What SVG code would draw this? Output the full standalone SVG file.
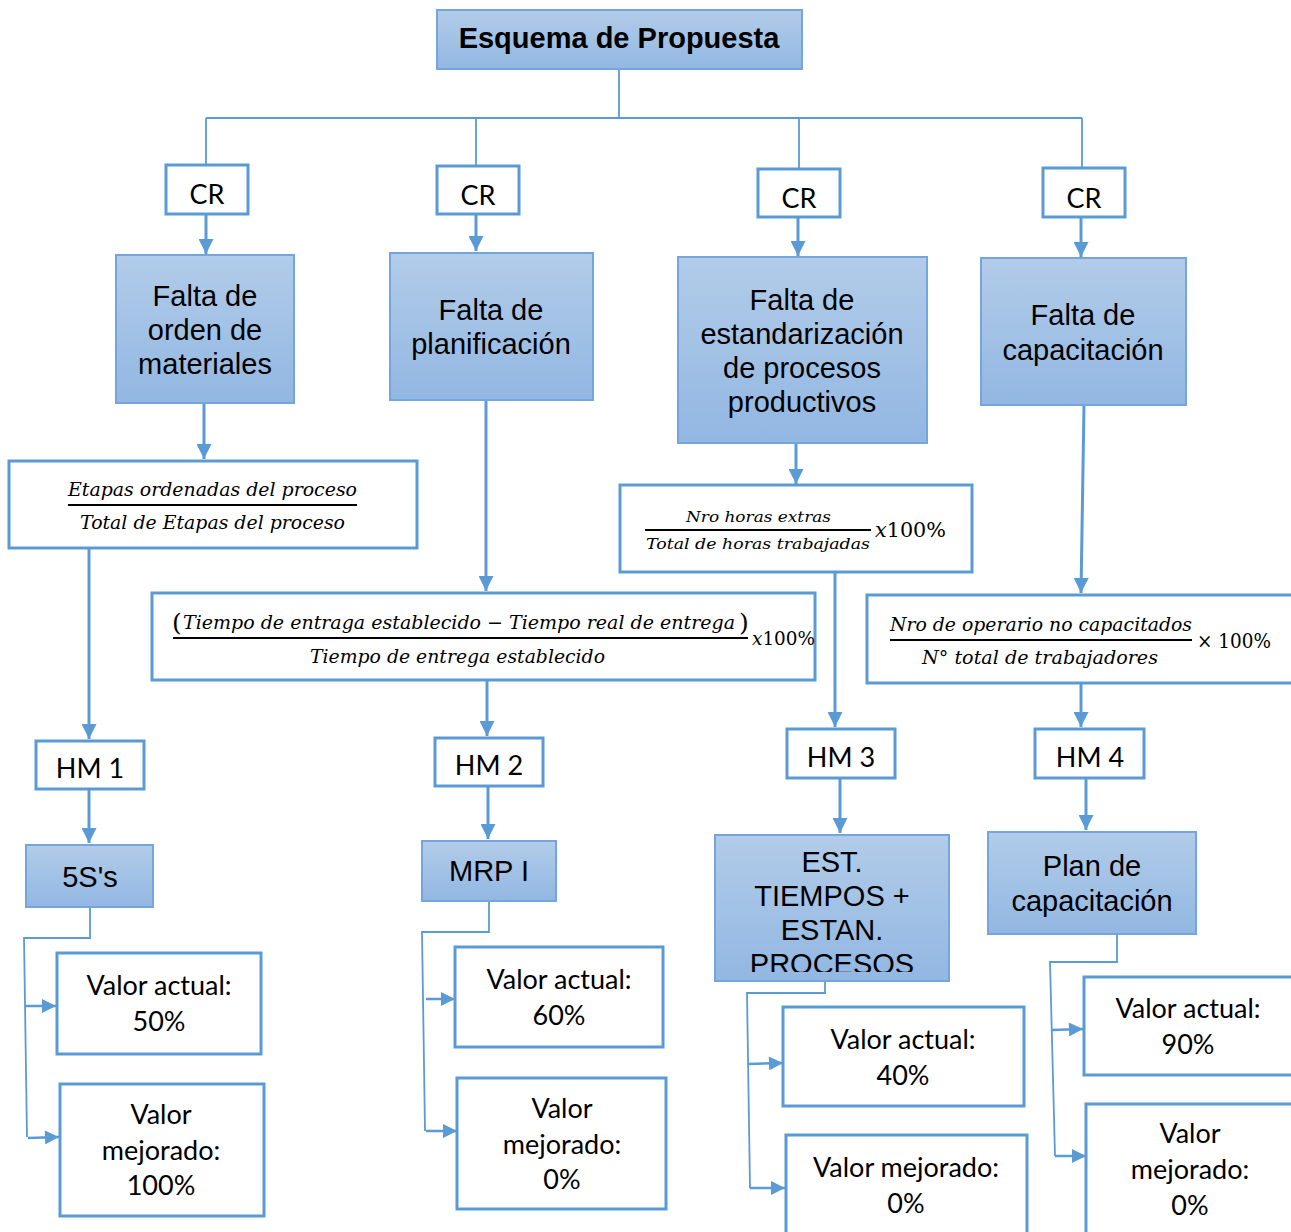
<svg xmlns="http://www.w3.org/2000/svg" width="1291" height="1232" viewBox="0 0 1291 1232">
<style>
.bx{fill:url(#g);stroke:#74a5dc;stroke-width:2}
.wb{fill:#fff;stroke:#5b9bd5;stroke-width:3}
.ar{fill:none;stroke:#5b9bd5;stroke-width:3;marker-end:url(#ah)}
.ln{fill:none;stroke:#5b9bd5;stroke-width:1.8}
.sa{fill:none;stroke:#5b9bd5;stroke-width:2.5;marker-end:url(#ah2)}
.t{font-family:"Liberation Sans",Arial,sans-serif;font-size:29px;fill:#000;text-anchor:middle}
.c{font-family:Lato,"Open Sans",sans-serif;font-size:27px;fill:#000;text-anchor:middle}
.m{font-family:"DejaVu Serif","Liberation Serif",serif;font-style:italic;fill:#000}
.u{font-family:"DejaVu Serif","Liberation Serif",serif;font-style:normal;fill:#000}
.fl{stroke:#000;stroke-width:2}
</style>
<defs>
<linearGradient id="g" x1="0" y1="0" x2="0" y2="1">
<stop offset="0" stop-color="#b2cce9"/>
<stop offset="1" stop-color="#92b7e2"/>
</linearGradient>
<marker id="ah" viewBox="0 0 10 10" refX="10" refY="5" markerWidth="17" markerHeight="15" markerUnits="userSpaceOnUse" orient="auto">
<path d="M0,0 L10,5 L0,10 z" fill="#5b9bd5"/>
</marker>
<marker id="ah2" viewBox="0 0 10 10" refX="10" refY="5" markerWidth="15" markerHeight="14" markerUnits="userSpaceOnUse" orient="auto">
<path d="M0,0 L10,5 L0,10 z" fill="#5b9bd5"/>
</marker>
<clipPath id="clipEst"><rect x="715" y="835" width="234" height="137"/></clipPath>
</defs>

<g id="connectors">
<path class="ln" d="M619,69 V118 M206,118 H1082 M206,118 V165 M476,118 V166 M799,118 V169 M1082,118 V168"/>
<path class="ar" d="M206,214 V254"/>
<path class="ar" d="M476,214 V251"/>
<path class="ar" d="M798,217 V256"/>
<path class="ar" d="M1081,217 V257"/>
<path class="ar" d="M204,403 V459"/>
<path class="ar" d="M486,400 V591"/>
<path class="ar" d="M796,443 V484"/>
<path class="ar" d="M1084,405 L1081,593"/>
<path class="ar" d="M89,548 V739"/>
<path class="ar" d="M487,680 V736"/>
<path class="ar" d="M835,572 V727"/>
<path class="ar" d="M1081,683 V727"/>
<path class="ar" d="M89,789 V843"/>
<path class="ar" d="M488,786 V839"/>
<path class="ar" d="M840,778 V833"/>
<path class="ar" d="M1086,778 V830"/>
<path class="ln" d="M90,907 V938 H24 L27,1137"/>
<path class="sa" d="M25,1006 L56,1006"/>
<path class="sa" d="M28,1138 L59,1137"/>
<path class="ln" d="M489,901 V932 H422 L425,1131"/>
<path class="sa" d="M426,999 L455,999"/>
<path class="sa" d="M426,1131 L457,1131"/>
<path class="ln" d="M825,965 V993 H747 L750,1188"/>
<path class="sa" d="M749,1064 L783,1063"/>
<path class="sa" d="M750,1188 L785,1188"/>
<path class="ln" d="M1117,934 V962 H1050 L1055,1156"/>
<path class="sa" d="M1052,1030 L1083,1029"/>
<path class="sa" d="M1055,1156 L1086,1156"/>
</g>

<g id="title">
<rect class="bx" x="437" y="10" width="365" height="59"/>
<text x="619" y="48" style="font-family:'Liberation Sans',Arial,sans-serif;font-size:29px;font-weight:bold;text-anchor:middle">Esquema de Propuesta</text>
</g>

<g id="cr1"><rect class="wb" x="166" y="165" width="82" height="49"/><text class="c" x="207" y="204">CR</text></g>
<g id="cr2"><rect class="wb" x="437" y="166" width="82" height="48"/><text class="c" x="478" y="205">CR</text></g>
<g id="cr3"><rect class="wb" x="758" y="169" width="82" height="48"/><text class="c" x="799" y="208">CR</text></g>
<g id="cr4"><rect class="wb" x="1043" y="168" width="82" height="49"/><text class="c" x="1084" y="208">CR</text></g>

<g id="causa1"><rect class="bx" x="116" y="255" width="178" height="148"/>
<text class="t" x="205" y="306">Falta de</text><text class="t" x="205" y="340">orden de</text><text class="t" x="205" y="374">materiales</text></g>
<g id="causa2"><rect class="bx" x="390" y="253" width="203" height="147"/>
<text class="t" x="491" y="320">Falta de</text><text class="t" x="491" y="354">planificación</text></g>
<g id="causa3"><rect class="bx" x="678" y="257" width="249" height="186"/>
<text class="t" x="802" y="310">Falta de</text><text class="t" x="802" y="344">estandarización</text><text class="t" x="802" y="378">de procesos</text><text class="t" x="802" y="412">productivos</text></g>
<g id="causa4"><rect class="bx" x="981" y="258" width="205" height="147"/>
<text class="t" x="1083" y="325">Falta de</text><text class="t" x="1083" y="360">capacitación</text></g>

<g id="formula1"><rect class="wb" x="9" y="461" width="408" height="87"/>
<text class="m" x="68" y="496" font-size="19" textLength="289" lengthAdjust="spacingAndGlyphs">Etapas ordenadas del proceso</text>
<line class="fl" x1="68" y1="505" x2="357" y2="505"/>
<text class="m" x="80" y="529" font-size="19" textLength="265" lengthAdjust="spacingAndGlyphs">Total de Etapas del proceso</text></g>

<g id="formula2"><rect class="wb" x="152" y="593" width="663" height="87"/>
<text class="u" x="172" y="631" font-size="25">(</text>
<text class="m" x="183" y="629" font-size="19" textLength="552" lengthAdjust="spacingAndGlyphs">Tiempo de entraga establecido  − Tiempo real de entrega</text>
<text class="u" x="739" y="631" font-size="25">)</text>
<line class="fl" x1="173" y1="638" x2="748" y2="638"/>
<text class="m" x="310" y="663" font-size="19" textLength="295" lengthAdjust="spacingAndGlyphs">Tiempo de entrega establecido</text>
<text class="m" x="752" y="645" font-size="19" textLength="63" lengthAdjust="spacingAndGlyphs">x<tspan style="font-style:normal">100%</tspan></text></g>

<g id="formula3"><rect class="wb" x="620" y="485" width="352" height="87"/>
<text class="m" x="686" y="522" font-size="15" textLength="145" lengthAdjust="spacingAndGlyphs">Nro horas extras</text>
<line class="fl" x1="645" y1="530" x2="871" y2="530"/>
<text class="m" x="646" y="549" font-size="15" textLength="224" lengthAdjust="spacingAndGlyphs">Total de horas trabajadas</text>
<text class="m" x="875" y="537" font-size="21" textLength="71" lengthAdjust="spacingAndGlyphs">x<tspan style="font-style:normal">100%</tspan></text></g>

<g id="formula4"><rect class="wb" x="867" y="595" width="430" height="88"/>
<text class="m" x="890" y="631" font-size="19" textLength="302" lengthAdjust="spacingAndGlyphs">Nro de operario no capacitados</text>
<line class="fl" x1="890" y1="640" x2="1192" y2="640"/>
<text class="m" x="922" y="664" font-size="19" textLength="236" lengthAdjust="spacingAndGlyphs">N° total de trabajadores</text>
<text class="u" x="1197" y="648" font-size="20" textLength="74" lengthAdjust="spacingAndGlyphs">× 100%</text></g>

<g id="hm1"><rect class="wb" x="36" y="741" width="108" height="48"/><text class="c" x="90" y="778">HM 1</text></g>
<g id="hm2"><rect class="wb" x="435" y="738" width="108" height="48"/><text class="c" x="489" y="775">HM 2</text></g>
<g id="hm3"><rect class="wb" x="787" y="729" width="108" height="49"/><text class="c" x="841" y="767">HM 3</text></g>
<g id="hm4"><rect class="wb" x="1035" y="729" width="109" height="49"/><text class="c" x="1090" y="767">HM 4</text></g>

<g id="sol1"><rect class="bx" x="26" y="845" width="127" height="62"/><text class="t" x="90" y="887">5S's</text></g>
<g id="sol2"><rect class="bx" x="422" y="841" width="134" height="60"/><text class="t" x="489" y="881">MRP I</text></g>
<g id="sol3"><rect class="bx" x="715" y="835" width="234" height="146"/>
<g clip-path="url(#clipEst)"><text class="t" x="832" y="872">EST.</text><text class="t" x="832" y="906">TIEMPOS +</text><text class="t" x="832" y="940">ESTAN.</text><text class="t" x="832" y="974">PROCESOS</text></g></g>
<g id="sol4"><rect class="bx" x="988" y="832" width="208" height="102"/>
<text class="t" x="1092" y="876">Plan de</text><text class="t" x="1092" y="911">capacitación</text></g>

<g id="va1"><rect class="wb" x="57" y="953" width="204" height="101"/><text class="c" x="159" y="995">Valor actual:</text><text class="c" x="159" y="1031">50%</text></g>
<g id="vm1"><rect class="wb" x="60" y="1084" width="204" height="132"/><text class="c" x="161" y="1124">Valor</text><text class="c" x="161" y="1160">mejorado:</text><text class="c" x="161" y="1195">100%</text></g>
<g id="va2"><rect class="wb" x="455" y="947" width="208" height="100"/><text class="c" x="559" y="989">Valor actual:</text><text class="c" x="559" y="1025">60%</text></g>
<g id="vm2"><rect class="wb" x="457" y="1078" width="209" height="131"/><text class="c" x="562" y="1118">Valor</text><text class="c" x="562" y="1154">mejorado:</text><text class="c" x="562" y="1189">0%</text></g>
<g id="va3"><rect class="wb" x="783" y="1007" width="241" height="99"/><text class="c" x="903" y="1049">Valor actual:</text><text class="c" x="903" y="1085">40%</text></g>
<g id="vm3"><rect class="wb" x="786" y="1135" width="241" height="110"/><text class="c" x="906" y="1177">Valor mejorado:</text><text class="c" x="906" y="1213">0%</text></g>
<g id="va4"><rect class="wb" x="1084" y="977" width="220" height="98"/><text class="c" x="1188" y="1018">Valor actual:</text><text class="c" x="1188" y="1054">90%</text></g>
<g id="vm4"><rect class="wb" x="1086" y="1104" width="220" height="140"/><text class="c" x="1190" y="1143">Valor</text><text class="c" x="1190" y="1179">mejorado:</text><text class="c" x="1190" y="1215">0%</text></g>
</svg>
